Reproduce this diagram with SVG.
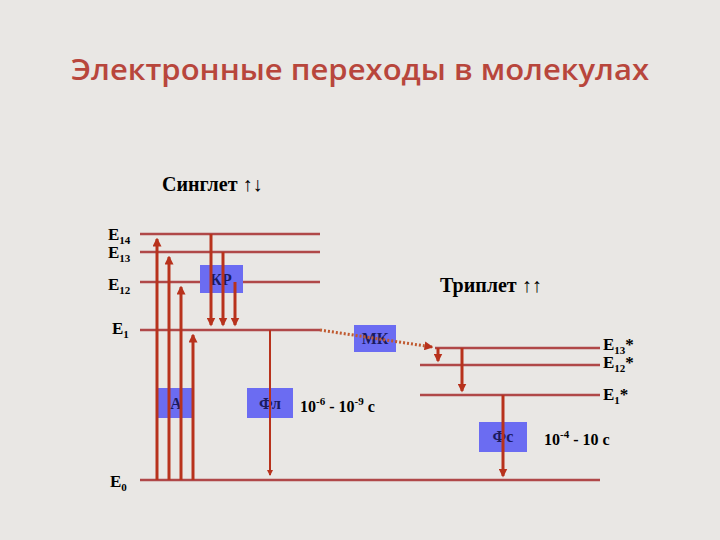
<svg xmlns="http://www.w3.org/2000/svg" width="720" height="540" viewBox="0 0 720 540">
<defs>
<style>
.lvl{stroke:#b04848;stroke-width:2.5;fill:none}
.arr{stroke:#b8321c;stroke-width:3;fill:none}
.thin{stroke:#b8321c;stroke-width:2;fill:none}
.box{fill:#6b6cf2}
.t{font-family:"Liberation Serif",serif;font-weight:bold;fill:#000}
.bl{font-family:"Liberation Serif",serif;font-weight:bold;font-size:16px;fill:#1a1a60;text-anchor:middle}
</style>
<marker id="ah" markerWidth="3" markerHeight="3" refX="2.5" refY="1.5" orient="auto" markerUnits="strokeWidth"><path d="M0,0 L3,1.5 L0,3 Z" fill="#b8321c"/></marker>
</defs>
<rect width="720" height="540" fill="#e9e7e4"/>
<text x="360" y="80" text-anchor="middle" font-family="'Open Sans',sans-serif" font-weight="600" font-size="28" fill="#b8463c" textLength="578" lengthAdjust="spacingAndGlyphs">Электронные переходы в молекулах</text>
<text class="t" x="162" y="191" font-size="20">Синглет ↑↓</text>
<text class="t" x="440" y="292" font-size="20">Триплет ↑↑</text>
<g id="labels" class="t" font-size="17">
<text x="108" y="240">E<tspan font-size="11" dy="4">14</tspan></text>
<text x="108" y="258">E<tspan font-size="11" dy="4">13</tspan></text>
<text x="108" y="290">E<tspan font-size="11" dy="4">12</tspan></text>
<text x="112" y="334">E<tspan font-size="11" dy="4">1</tspan></text>
<text x="110" y="487">E<tspan font-size="11" dy="4">0</tspan></text>
<text x="603" y="350">E<tspan font-size="11" dy="4">13</tspan><tspan dy="-4">*</tspan></text>
<text x="603" y="368">E<tspan font-size="11" dy="4">12</tspan><tspan dy="-4">*</tspan></text>
<text x="603" y="400">E<tspan font-size="11" dy="4">1</tspan><tspan dy="-4">*</tspan></text>
<text x="300" y="412" font-size="16">10<tspan font-size="11" dy="-7">-6</tspan><tspan dy="7"> - 10</tspan><tspan font-size="11" dy="-7">-9</tspan><tspan dy="7"> с</tspan></text>
<text x="544" y="445" font-size="16">10<tspan font-size="11" dy="-7">-4</tspan><tspan dy="7"> - 10 с</tspan></text>
</g>
<g id="levels">
<line class="lvl" x1="140" y1="234" x2="320" y2="234"/>
<line class="lvl" x1="140" y1="252" x2="320" y2="252"/>
<line class="lvl" x1="140" y1="282" x2="320" y2="282"/>
<line class="lvl" x1="140" y1="330" x2="320" y2="330"/>
<line class="lvl" x1="140" y1="480" x2="600" y2="480"/>
<line class="lvl" x1="435" y1="348" x2="600" y2="348"/>
<line class="lvl" x1="420" y1="365" x2="600" y2="365"/>
<line class="lvl" x1="420" y1="395" x2="600" y2="395"/>
</g>
<g id="boxes">
<g id="A"><rect class="box" x="158" y="388" width="35" height="30"/><text class="bl" x="176" y="409">А</text></g>
<g id="KR"><rect class="box" x="200" y="265" width="43" height="28"/><text class="bl" x="221" y="285">КР</text></g>
<g id="Fl"><rect class="box" x="247" y="388" width="46" height="30"/><text class="bl" x="270" y="409">Фл</text></g>
<g id="MK"><rect class="box" x="354" y="325" width="42" height="27"/><text class="bl" x="375" y="344">МК</text></g>
<g id="Fs"><rect class="box" x="479" y="422" width="48" height="30"/><text class="bl" x="503" y="442">Фс</text></g>
</g>
<g id="connectors">
<line class="arr" x1="157" y1="480" x2="157" y2="239" marker-end="url(#ah)"/>
<line class="arr" x1="169" y1="480" x2="169" y2="257" marker-end="url(#ah)"/>
<line class="arr" x1="181" y1="480" x2="181" y2="287" marker-end="url(#ah)"/>
<line class="arr" x1="193" y1="480" x2="193" y2="335" marker-end="url(#ah)"/>
<line class="arr" x1="211" y1="234" x2="211" y2="325" marker-end="url(#ah)"/>
<line class="arr" x1="223" y1="252" x2="223" y2="325" marker-end="url(#ah)"/>
<line class="arr" x1="235" y1="282" x2="235" y2="325" marker-end="url(#ah)"/>
<line class="thin" x1="270" y1="330" x2="270" y2="475" marker-end="url(#ah)"/>
<line x1="320" y1="330" x2="432" y2="347" stroke="#c05a30" stroke-width="3" stroke-dasharray="2,2" marker-end="url(#ah)"/>
<line class="arr" x1="438" y1="348" x2="438" y2="361" marker-end="url(#ah)"/>
<line class="arr" x1="462" y1="348" x2="462" y2="391" marker-end="url(#ah)"/>
<line class="arr" x1="503" y1="395" x2="503" y2="476" marker-end="url(#ah)"/>
</g>
</svg>
